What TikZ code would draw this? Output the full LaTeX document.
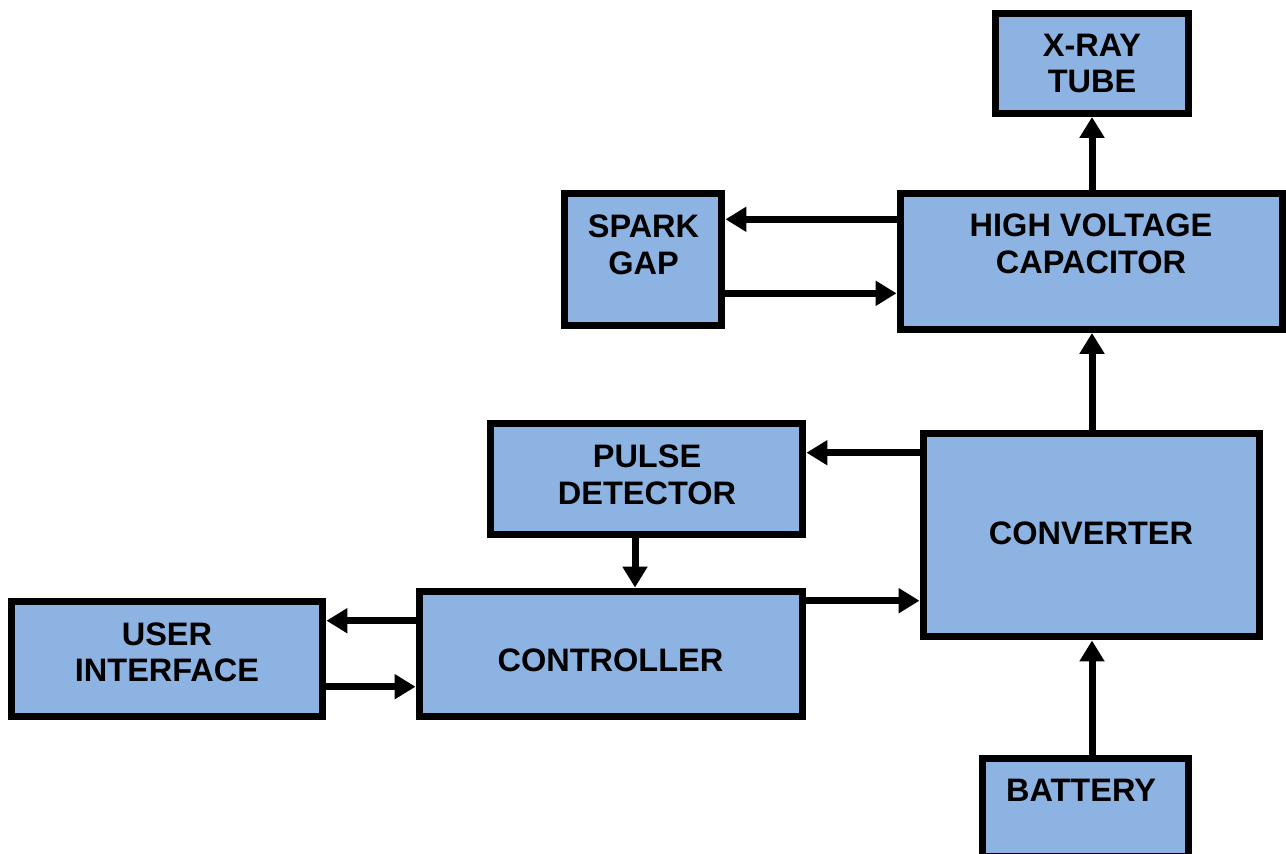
\documentclass[tikz,border=0pt]{standalone}
\usepackage{fontspec}
\setmainfont{Liberation Sans}
\usepackage{tikz}
\usetikzlibrary{arrows.meta}
\definecolor{boxblue}{RGB}{141,179,226}

\begin{document}
\begin{tikzpicture}[x=0.02cm,y=-0.02cm,
                    block/.style={rectangle,draw,line width=0.14cm,fill=boxblue,inner sep=0pt},
                    txt/.style={align=center,font=\bfseries\fontsize{18.5}{20.8}\selectfont},
                    arrow/.style={line width=0.14cm,-{Triangle[length=0.42cm,width=0.48cm]}}]

 \useasboundingbox (0,0) rectangle (1286,853);

 \node[block,minimum width=3.86cm,minimum height=2.01cm] (tube) at (1092,63.25) {};
 \node[txt] (tubetxt) at (1092,63.5) {X-RAY\\TUBE};

 \node[block,minimum width=7.65cm,minimum height=2.72cm] (cap) at (1091.25,261.5) {};
 \node[txt] (captxt) at (1091,244) {HIGH VOLTAGE\\CAPACITOR};

 \node[block,minimum width=3.16cm,minimum height=2.64cm] (gap) at (643,259.5) {};
 \node[txt] (gaptxt) at (643.5,245) {SPARK\\GAP};

 \node[block,minimum width=6.25cm,minimum height=2.23cm] (pulse) at (646.75,479.25) {};
 \node[txt] (pulsetxt) at (647,475) {PULSE\\DETECTOR};

 \node[block,minimum width=6.73cm,minimum height=4.07cm] (conv) at (1091.25,535.25) {};
 \node[txt] (convtxt) at (1091,533) {CONVERTER};

 \node[block,minimum width=6.24cm,minimum height=2.31cm] (ui) at (167,658.75) {};
 \node[txt] (uitxt) at (167,652.5) {USER\\INTERFACE};

 \node[block,minimum width=7.68cm,minimum height=2.51cm] (ctrl) at (611,653.75) {};
 \node[txt] (ctrltxt) at (610.5,660) {CONTROLLER};

 \node[block,minimum width=4.13cm,minimum height=1.95cm] (bat) at (1085.75,807.25) {};
 \node[txt] (battxt) at (1081,790) {BATTERY};

 % connectors
 \path[arrow]
    (cap.west |- 0,219.3) edge (gap.east |- 0,219.3)
    (gap.east |- 0,293.3) edge (cap.west |- 0,293.3)
    (cap.north -| 1092,0) edge (tube.south -| 1092,0)
    (conv.north -| 1092,0) edge (cap.south -| 1092,0)
    (conv.west |- 0,452.7) edge (pulse.east |- 0,452.7)
    (pulse.south -| 635,0) edge (ctrl.north -| 635,0)
    (ctrl.east |- 0,600.7) edge (conv.west |- 0,600.7)
    (ctrl.west |- 0,620.7) edge (ui.east |- 0,620.7)
    (ui.east |- 0,686.7) edge (ctrl.west |- 0,686.7)
    (bat.north -| 1092,0) edge (conv.south -| 1092,0);

\end{tikzpicture}
\end{document}
